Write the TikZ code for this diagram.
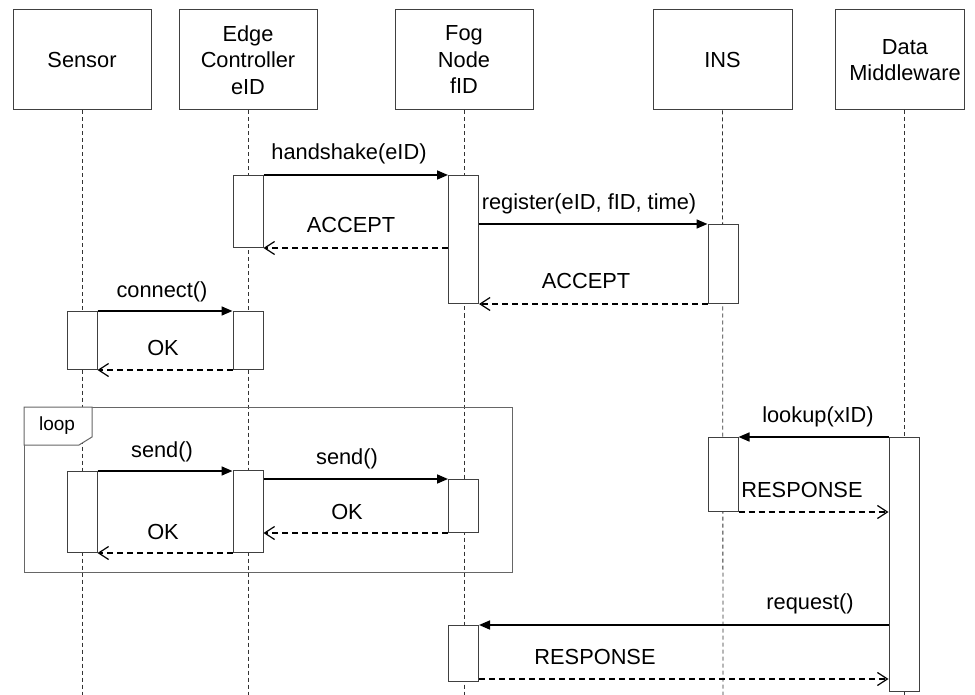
\documentclass[tikz,border=0pt]{standalone}
\usepackage{fontspec}
\setmainfont{Liberation Sans}
\usetikzlibrary{arrows.meta}
\begin{document}
\begin{tikzpicture}[x=1pt,y=-1pt,
  every node/.style={font=\fontsize{21.8}{26.5}\selectfont},
  head/.style={draw=black!75, line width=1pt, fill=white, minimum height=100pt, align=center, inner sep=0pt},
  bar/.style={draw=black!75, line width=1pt, fill=white, minimum width=30pt, inner sep=0pt, anchor=north},
  life/.style={draw=black!80, line width=0.8pt, dash pattern=on 4pt off 3pt},
  frame/.style={draw=black!60, line width=1pt},
  msg/.style={draw=black, line width=1.6pt, -{Triangle[length=11pt,width=9pt]}},
  reply/.style={draw=black, line width=1.3pt, dash pattern=on 6pt off 4pt,
    -{Straight Barb[length=10pt,width=13pt,line width=1.2pt]}},
  lbl/.style={inner sep=0pt},
]
\useasboundingbox (0,0) rectangle (975,695);

% participants
\node[head, minimum width=138pt] (sensor) at (82,60) {Sensor};
\node[head, minimum width=138pt] (edge) at (248,60) {Edge\\Controller\\eID};
\node[head, minimum width=138pt] (fog) at (464,60) {Fog\\Node\\fID};
\node[head, minimum width=139pt] (ins) at (722.5,60) {INS};
\node[head, minimum width=129pt] (dm) at (899.5,60) {};
\node[lbl, align=center] (dmtext) at (905,60) {Data\\Middleware};

% lifelines
\coordinate (sensorEnd) at (82,695);
\coordinate (edgeEnd) at (248,695);
\coordinate (fogEnd) at (464,695);
\coordinate (insEnd) at (723,695);
\coordinate (dmTop) at (904,110);
\coordinate (dmEnd) at (904,695);
\draw[life] (sensor.south) -- (sensorEnd);
\draw[life] (edge.south) -- (edgeEnd);
\draw[life] (fog.south) -- (fogEnd);
\draw[life] (ins.south) -- (insEnd);
\draw[life] (dmTop) -- (dmEnd);

% loop fragment
\node[frame, minimum width=488pt, minimum height=165pt, inner sep=0pt, anchor=north west] (loopframe) at (24,407) {};
\draw[frame, fill=white] (24,407) -- (92,407) -- (92,437) -- (79,445) -- (24,445) -- cycle;
\node[lbl, font=\fontsize{19}{22}\selectfont] (looplbl) at (57,426) {loop};

% activation bars
\node[bar, minimum height=72pt]  (e1) at (248,175) {};
\node[bar, minimum height=128pt] (f1) at (463.5,175) {};
\node[bar, minimum height=79pt]  (i1) at (723,224) {};
\node[bar, minimum height=58pt]  (s1) at (82,311) {};
\node[bar, minimum height=58pt]  (e2) at (248,311) {};
\node[bar, minimum height=81pt]  (s2) at (82,471) {};
\node[bar, minimum height=82pt]  (e3) at (248,470) {};
\node[bar, minimum height=53pt]  (f2) at (463.5,479) {};
\node[bar, minimum height=74pt]  (i2) at (723,437) {};
\node[bar, minimum height=254pt] (dm1) at (904,437) {};
\node[bar, minimum height=56pt]  (f3) at (463.5,625) {};

% messages
\draw[msg] (e1.north east) -- (f1.north west);
\node[lbl] (m1) at (349,154) {handshake(eID)};
\draw[reply] (f1.west |- e1.south) -- (e1.south east);
\node[lbl] (m2) at (351,225) {ACCEPT};
\draw[msg] (f1.east |- i1.north) -- (i1.north west);
\node[lbl] (m3) at (589,204) {register(eID, fID, time)};
\draw[reply] (i1.south west) -- (f1.south east);
\node[lbl] (m4) at (586,281) {ACCEPT};

\draw[msg] (s1.north east) -- (e2.north west);
\node[lbl] (m5) at (162,292) {connect()};
\draw[reply] (e2.south west) -- (s1.south east);
\node[lbl] (m6) at (163,348) {OK};

\draw[msg] (s2.north east) -- (e3.west |- s2.north);
\node[lbl] (m7) at (162,452) {send()};
\draw[msg] (e3.east |- f2.north) -- (f2.north west);
\node[lbl] (m8) at (347,459) {send()};
\draw[reply] (f2.south west) -- (e3.east |- f2.south);
\node[lbl] (m9) at (347,512) {OK};
\draw[reply] (e3.south west) -- (s2.south east);
\node[lbl] (m10) at (163,532) {OK};

\draw[msg] (dm1.north west) -- (i2.north east);
\node[lbl] (m11) at (818,417) {lookup(xID)};
\draw[reply] (i2.south east) -- (dm1.west |- i2.south);
\node[lbl] (m12) at (802,490) {RESPONSE};

\draw[msg] (dm1.west |- f3.north) -- (f3.north east);
\node[lbl] (m13) at (810,604) {request()};
\coordinate (r2) at ([yshift=3pt]f3.south east);
\draw[reply] (r2) -- (dm1.west |- r2);
\node[lbl] (m14) at (595,657) {RESPONSE};
\end{tikzpicture}
\end{document}
